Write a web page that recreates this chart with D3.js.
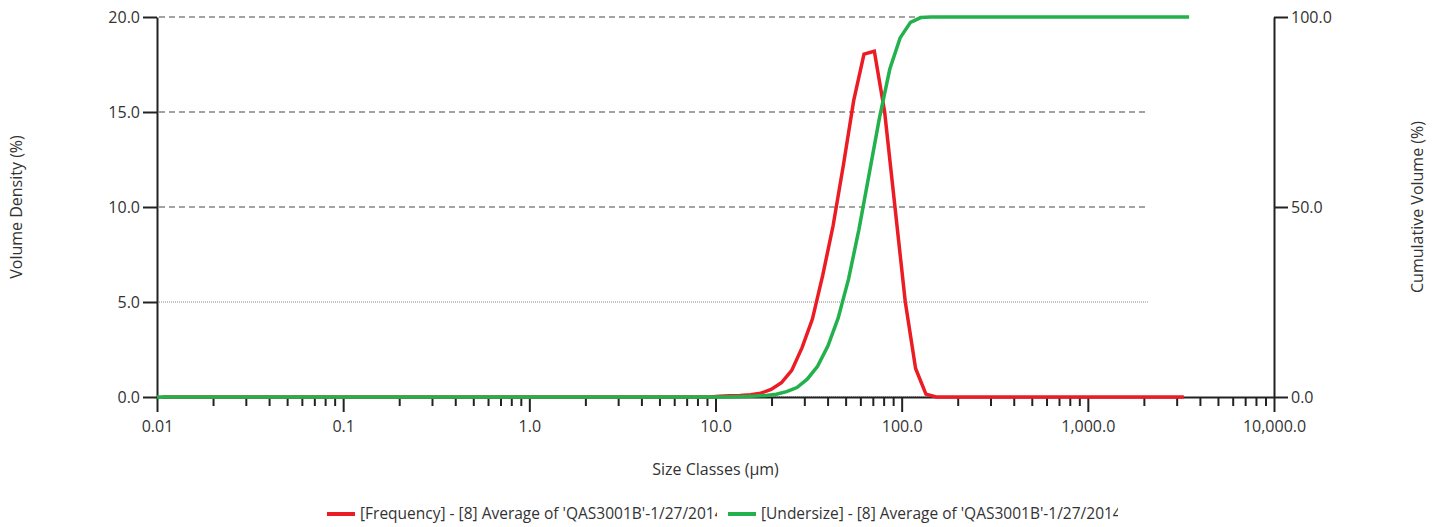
<!DOCTYPE html>
<html>
<head>
<meta charset="utf-8">
<script src="https://cdn.jsdelivr.net/npm/d3@7"></script>
<style>
  body { margin: 0; background: #fff; }
  text { font-family: "Open Sans", "Noto Sans", sans-serif; fill: #333; }
</style>
</head>
<body>
<svg id="chart" width="1441" height="527"></svg>
<script>
// frequency curve, plotted at size class centres (µm)
const freqSizes = [0.0107, 9.25, 10.51, 11.94, 13.56, 15.41, 17.51, 19.89, 22.60, 25.68, 29.17, 33.15,
  37.66, 42.79, 48.62, 55.24, 62.76, 71.31, 81.02, 92.05, 104.6, 118.8, 135.0, 153.4, 3280];
const freqValues = [0, 0, 0.04, 0.06, 0.08, 0.12, 0.2, 0.4, 0.75, 1.4, 2.6, 4.1,
  6.4, 9.0, 12.2, 15.6, 18.05, 18.2, 15.0, 10.0, 5.0, 1.5, 0.15, 0, 0];

// undersize curve, plotted at size class edges (µm)
const underSizes = [0.01, 9.86, 11.20, 12.72, 14.46, 16.43, 18.66, 21.21, 24.09, 27.37, 31.10, 35.33,
  40.15, 45.61, 51.83, 58.89, 66.91, 76.02, 86.37, 98.1, 111.5, 126.7, 143.9, 3500];
const underValues = [0, 0, 0.03, 0.08, 0.15, 0.25, 0.42, 0.75, 1.4, 2.5, 4.7, 8.1,
  13.4, 20.8, 31, 44, 58.7, 73.5, 86.3, 94.5, 98.6, 99.85, 100, 100];

const xTickValues = [0.01, 0.1, 1, 10, 100, 1000, 10000];
const xTickLabels = ["0.01", "0.1", "1.0", "10.0", "100.0", "1,000.0", "10,000.0"];
const yLeftTicks = [0, 5, 10, 15, 20];
const yRightTicks = [0, 50, 100];
const seriesNames = ["[Frequency] - [8] Average of 'QAS3001B'-1/27/2014",
  "[Undersize] - [8] Average of 'QAS3001B'-1/27/2014"];
const seriesColors = ["#ec1c24", "#22b14c"];

const margin = {left: 157, right: 167, top: 17, bottom: 130};
const width = 1441, height = 527;
const svg = d3.select("#chart");

const x = d3.scaleLog().domain([0.01, 10000]).range([margin.left, width - margin.right]);
const yL = d3.scaleLinear().domain([0, 20]).range([height - margin.bottom, margin.top]);
const yR = d3.scaleLinear().domain([0, 100]).range([height - margin.bottom, margin.top]);

// gridlines (stop short of the right axis like the original)
const gridEnd = x(2100);
svg.append("g").selectAll("line")
  .data(yLeftTicks)
  .enter().append("line")
  .attr("x1", margin.left + 2)
  .attr("x2", gridEnd)
  .attr("y1", d => yL(d))
  .attr("y2", d => yL(d))
  .attr("stroke", d => (d === 5 || d === 0) ? "#b0b0b0" : "#a3a3a3")
  .attr("stroke-width", d => (d === 5 || d === 0) ? 1.5 : 2)
  .attr("stroke-dasharray", d => (d === 5 || d === 0) ? "1,1" : "6,4");

// minor ticks on the log axis
const minor = [];
for (let p = -2; p < 4; p++) for (let m = 2; m <= 9; m++) minor.push(m * Math.pow(10, p));

const xAxis = svg.append("g")
  .attr("transform", `translate(0,${yL(0)})`)
  .call(d3.axisBottom(x).tickValues(minor).tickSize(9).tickFormat(""));
xAxis.selectAll("line").attr("stroke", "#222").attr("stroke-width", 2);
xAxis.select(".domain").remove();

const xMajor = svg.append("g")
  .attr("transform", `translate(0,${yL(0)})`)
  .call(d3.axisBottom(x).tickValues(xTickValues).tickSizeInner(15).tickSizeOuter(0).tickPadding(9)
    .tickFormat((d, i) => xTickLabels[i]));
xMajor.selectAll("line").attr("stroke", "#222").attr("stroke-width", 2);
xMajor.select(".domain").attr("stroke", "#222").attr("stroke-width", 2);
xMajor.selectAll("text").style("font-size", "16px").attr("fill", "#333");

const leftAxis = svg.append("g")
  .attr("transform", `translate(${margin.left},0)`)
  .call(d3.axisLeft(yL).tickValues(yLeftTicks).tickSizeInner(14).tickSizeOuter(0).tickPadding(3)
    .tickFormat(d3.format(".1f")));
leftAxis.selectAll("line").attr("stroke", "#222").attr("stroke-width", 2);
leftAxis.select(".domain").attr("stroke", "#222").attr("stroke-width", 2);
leftAxis.selectAll("text").style("font-size", "16px").attr("fill", "#333");

const rightAxis = svg.append("g")
  .attr("transform", `translate(${width - margin.right},0)`)
  .call(d3.axisRight(yR).tickValues(yRightTicks).tickSizeInner(14).tickSizeOuter(0).tickPadding(3)
    .tickFormat(d3.format(".1f")));
rightAxis.selectAll("line").attr("stroke", "#222").attr("stroke-width", 2);
rightAxis.select(".domain").attr("stroke", "#222").attr("stroke-width", 2);
rightAxis.selectAll("text").style("font-size", "16px").attr("fill", "#333");

// curves
const freqLine = d3.line().x(d => x(d[0])).y(d => yL(d[1]));
const underLine = d3.line().x(d => x(d[0])).y(d => yR(d[1]));

svg.append("path")
  .datum(d3.zip(freqSizes, freqValues))
  .attr("d", freqLine)
  .attr("fill", "none")
  .attr("stroke", seriesColors[0])
  .attr("stroke-width", 3.5);

svg.append("path")
  .datum(d3.zip(underSizes, underValues))
  .attr("d", underLine)
  .attr("fill", "none")
  .attr("stroke", seriesColors[1])
  .attr("stroke-width", 3.5);

// axis titles
svg.append("text")
  .attr("transform", `translate(22,${(yL(0) + yL(20)) / 2}) rotate(-90)`)
  .attr("text-anchor", "middle")
  .style("font-size", "16px")
  .text("Volume Density (%)");

svg.append("text")
  .attr("transform", `translate(1423,${(yL(0) + yL(20)) / 2}) rotate(-90)`)
  .attr("text-anchor", "middle")
  .style("font-size", "16px")
  .text("Cumulative Volume (%)");

svg.append("text")
  .attr("x", (margin.left + width - margin.right) / 2)
  .attr("y", 475)
  .attr("text-anchor", "middle")
  .style("font-size", "16px")
  .text("Size Classes (µm)");

// legend, items have a fixed width and the text gets clipped
const legendX = 327, legendY = 514, itemW = 401, textW = 357;
const legend = svg.append("g");
seriesNames.forEach((name, i) => {
  const g = legend.append("g").attr("transform", `translate(${legendX + i * itemW},${legendY})`);
  g.append("clipPath").attr("id", "clip" + i)
    .append("rect").attr("x", 33).attr("y", -12).attr("width", textW).attr("height", 24);
  g.append("line")
    .attr("x1", 0).attr("x2", 28)
    .attr("stroke", seriesColors[i])
    .attr("stroke-width", 4);
  g.append("text")
    .attr("x", 33)
    .attr("dy", "0.35em")
    .attr("clip-path", `url(#clip${i})`)
    .style("font-size", "15.5px")
    .text(name);
});
</script>
</body>
</html>
